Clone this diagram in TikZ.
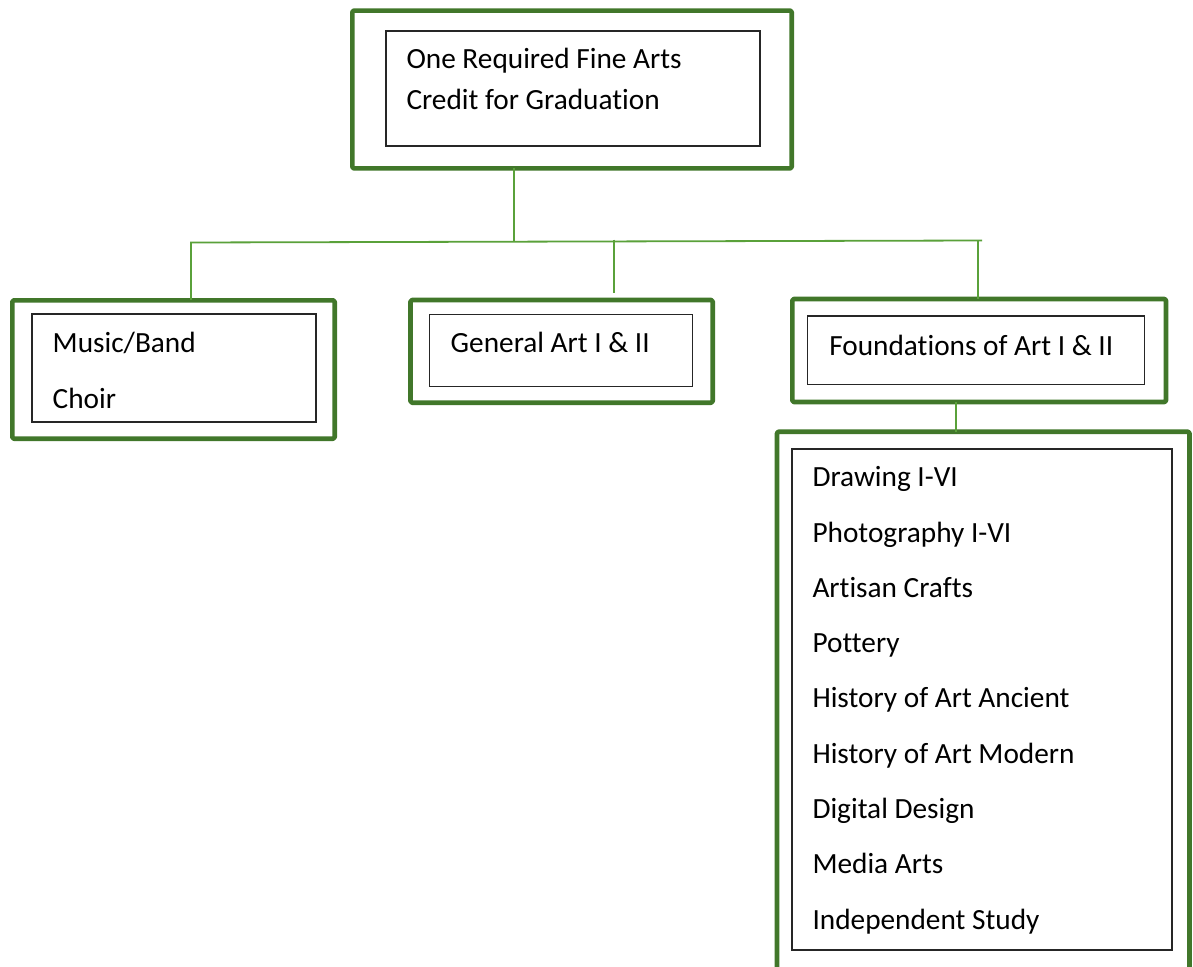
\documentclass[tikz,border=0pt]{standalone}
\usepackage{fontspec}
\setmainfont{Carlito}[Ligatures=NoCommon]
\usetikzlibrary{fit}
\definecolor{boxgreen}{HTML}{41772A}
\definecolor{linegreen}{HTML}{5AA13A}
\begin{document}
\begin{tikzpicture}[x=1pt,y=-1pt,
  outerbox/.style={draw=boxgreen,line width=4.6pt,line join=round,rounded corners=1.5pt,inner sep=0pt,outer sep=0pt},
  innerbox/.style={draw=black!85,line width=1.1pt,inner sep=0pt,outer sep=0pt},
  txt/.style={anchor=base west,inner sep=0pt,outer sep=0pt,font=\fontsize{29.3pt}{35pt}\selectfont},
  conn/.style={draw=linegreen,line width=1.8pt}]
\useasboundingbox (0,0) rectangle (1193,966);
\fill[white] (0,0) rectangle (1193,966);
\clip (0,0) rectangle (1193,966);

% top box
\node[outerbox,fit={(352.3,10.6)(791.7,168.4)}] (top) {};
\node[innerbox,fit={(386,31)(760,146)}] (topin) {};
\node[txt] (t1) at (406.5,69) {One Required Fine Arts};
\node[txt] (t2) at (406.5,109) {Credit for Graduation};

% left box
\node[outerbox,fit={(12.3,300.3)(334.7,438.7)}] (left) {};
\node[innerbox,fit={(32,314)(316,422)}] (leftin) {};
\node[txt] (l1) at (52.7,352.7) {Music/Band};
\node[txt] (l2) at (52.7,408) {Choir};

% middle box
\node[outerbox,fit={(410.5,300)(712.7,402.7)}] (mid) {};
\node[innerbox,fit={(429.3,314.3)(692.3,386.7)}] (midin) {};
\node[txt] (m1) at (450.7,352.7) {General Art I \& II};

% right box
\node[outerbox,fit={(792.3,299)(1166,402)}] (right) {};
\node[innerbox,fit={(807.3,316)(1144.3,384.3)}] (rightin) {};
\node[txt] (r1) at (829.3,355) {Foundations of Art I \& II};

% bottom list box
\node[outerbox,fit={(777,431.7)(1189.5,1010)}] (arts) {};
\node[innerbox,fit={(792,449)(1172,950)}] (artsin) {};
\node[txt] (a1) at (812.5,486.7) {Drawing I-VI};
\node[txt] (a2) at (812.5,542.0) {Photography I-VI};
\node[txt] (a3) at (812.5,597.3) {Artisan Crafts};
\node[txt] (a4) at (812.5,652.6) {Pottery};
\node[txt] (a5) at (812.5,707.9) {History of Art Ancient};
\node[txt] (a6) at (812.5,763.2) {History of Art Modern};
\node[txt] (a7) at (812.5,818.5) {Digital Design};
\node[txt] (a8) at (812.5,873.8) {Media Arts};
\node[txt] (a9) at (812.5,929.1) {Independent Study};

% connectors
\coordinate (jt) at (514,241.5);
\coordinate (hl) at (190,242.5);
\coordinate (hr) at (982,240.5);
\coordinate (dl) at (191,242.5);
\coordinate (dm) at (613.6,239.5);
\coordinate (dme) at (613.6,293);
\coordinate (dr) at (978.3,241);
\coordinate (db) at (955.7,0);
\draw[conn] (jt |- top.south) -- (jt);
\draw[conn] (hl) -- (hr);
\draw[conn] (dl) -- (dl |- left.north);
\draw[conn] (dm) -- (dme);
\draw[conn] (dr) -- (dr |- right.north);
\draw[conn] (db |- right.south) -- (db |- arts.north);
\end{tikzpicture}
\end{document}
